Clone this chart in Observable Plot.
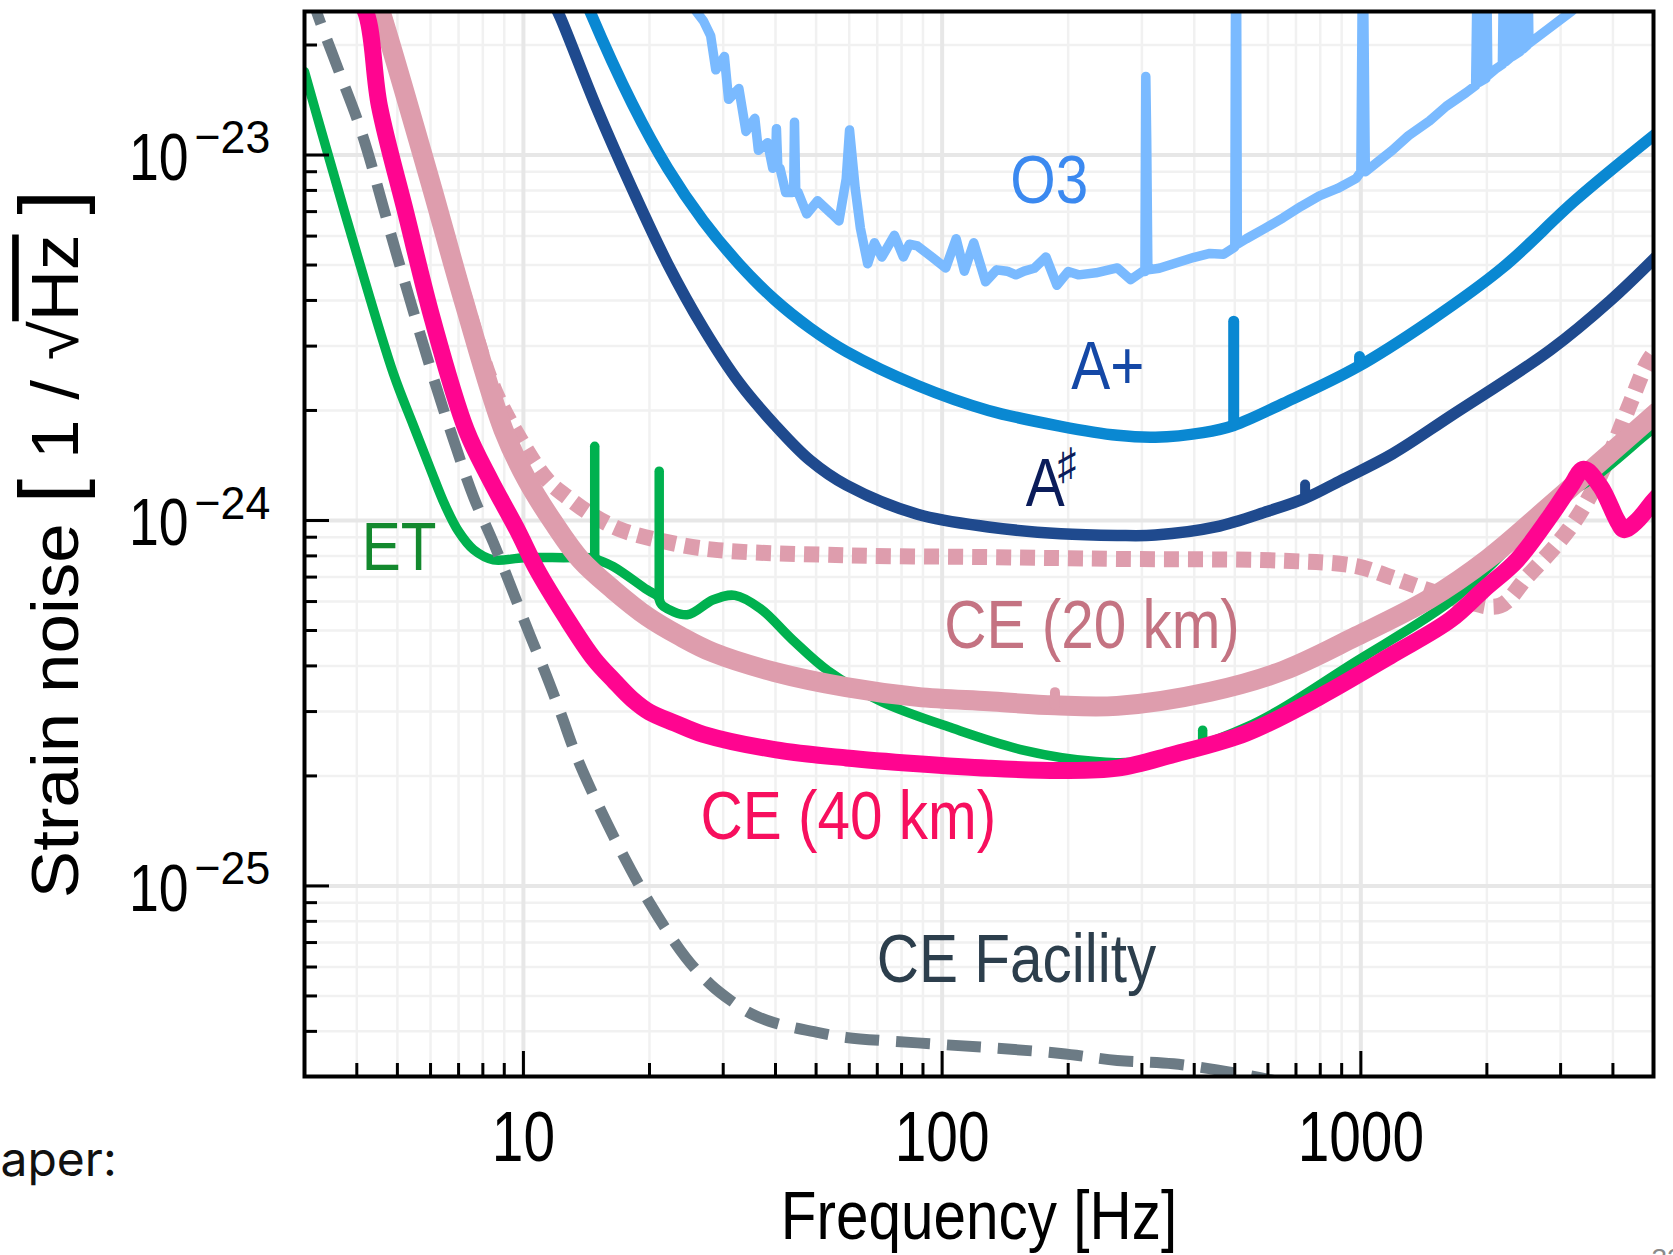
<!DOCTYPE html>
<html>
<head>
<meta charset="utf-8">
<script src="https://cdn.jsdelivr.net/npm/d3@7"></script>
<script src="https://cdn.jsdelivr.net/npm/@observablehq/plot@0.6"></script>
<style>
  html, body { margin: 0; padding: 0; background: #fff; overflow: hidden; }
  #chart { position: relative; width: 1673px; height: 1255px; }
</style>
</head>
<body>
<div id="chart"></div>
<script>
// ---------------- data ----------------
const o3Freq = [25.4, 26.9, 28.0, 28.8, 30.2, 30.9, 32.7, 34.0, 35.7, 36.4, 38.3, 39.4, 40.0, 40.2, 40.5, 41.0, 42.3, 43.9, 44.2, 44.4, 44.7, 45.3, 47.5, 50.4, 54.5, 56.7, 59.0, 60.1, 62.0, 63.8, 66.4, 68.9, 71.8, 76.9, 80.8, 83.5, 87.3, 94.5, 102, 108, 113, 119, 127, 135, 143, 150, 157, 166, 177, 188, 200, 212, 233, 262, 282, 300, 305, 306.5, 308, 310, 330, 357, 400, 436, 470, 500, 502, 505, 507, 533, 590, 652, 720, 796, 880, 975, 1000, 1008, 1015, 1025, 1100, 1189, 1300, 1459, 1600, 1783, 1880, 1895, 1905, 1915, 1990, 2000, 2010, 2100, 2178, 2190, 2200, 2215, 2280, 2290, 2300, 2400, 2410, 2420, 2440, 2500, 2510, 2520, 2667, 3194, 3500];
const o3Strain = [2.54e-23, 2.33e-23, 2.12e-23, 1.71e-23, 1.86e-23, 1.42e-23, 1.52e-23, 1.16e-23, 1.26e-23, 1.03e-23, 1.08e-23, 9.2e-24, 9.4e-24, 1.18e-23, 9.3e-24, 9.2e-24, 7.9e-24, 7.9e-24, 8.0e-24, 1.23e-23, 8.0e-24, 7.9e-24, 6.9e-24, 7.5e-24, 6.9e-24, 6.6e-24, 8.6e-24, 1.17e-23, 8.1e-24, 6.3e-24, 5.04e-24, 5.75e-24, 5.26e-24, 6.03e-24, 5.26e-24, 5.7e-24, 5.64e-24, 5.26e-24, 4.91e-24, 5.9e-24, 4.81e-24, 5.75e-24, 4.5e-24, 4.85e-24, 4.81e-24, 4.7e-24, 4.81e-24, 4.9e-24, 5.26e-24, 4.4e-24, 4.8e-24, 4.7e-24, 4.76e-24, 4.91e-24, 4.56e-24, 4.79e-24, 4.8e-24, 1.64e-23, 1.1e-23, 4.85e-24, 4.9e-24, 5.04e-24, 5.25e-24, 5.38e-24, 5.35e-24, 5.6e-24, 3e-23, 3e-23, 5.7e-24, 5.9e-24, 6.3e-24, 6.73e-24, 7.24e-24, 7.73e-24, 8.1e-24, 8.63e-24, 9.0e-24, 3e-23, 3e-23, 9.0e-24, 9.6e-24, 1.03e-23, 1.13e-23, 1.24e-23, 1.36e-23, 1.48e-23, 1.55e-23, 3e-23, 3e-23, 1.58e-23, 1.62e-23, 3e-23, 1.65e-23, 1.72e-23, 1.77e-23, 3e-23, 3e-23, 1.8e-23, 1.85e-23, 3e-23, 1.86e-23, 1.92e-23, 3e-23, 3e-23, 1.95e-23, 2.0e-23, 3e-23, 2.02e-23, 2.12e-23, 2.48e-23, 2.75e-23];

const aPlusFreq = [13.9, 14.4, 18.2, 22.1, 26.9, 32.7, 39.8, 48.4, 59, 87.3, 129, 192, 262, 323, 420, 497, 652, 975, 1459, 2178, 3258, 5100];
const aPlusStrain = [2.75e-23, 2.48e-23, 1.38e-23, 9.2e-24, 6.6e-24, 5.04e-24, 4.02e-24, 3.36e-24, 2.90e-24, 2.34e-24, 2.00e-24, 1.81e-24, 1.71e-24, 1.69e-24, 1.74e-24, 1.82e-24, 2.09e-24, 2.62e-24, 3.51e-24, 4.91e-24, 7.53e-24, 1.15e-23];
const aPlusSpikeFreq = [497, 993];
const aPlusSpikeBase = [1.82e-24, 2.66e-24];
const aPlusSpikeTop = [3.5e-24, 2.8e-24];

const aSharpFreq = [11.8, 12.25, 14.9, 18.2, 22.1, 26.9, 32.7, 39.8, 48.4, 59, 87.3, 129, 192, 262, 323, 450, 600, 736, 900, 1189, 1637, 2838, 3945, 5100];
const aSharpStrain = [2.6e-23, 2.38e-23, 1.36e-23, 8.07e-24, 5.04e-24, 3.36e-24, 2.39e-24, 1.83e-24, 1.46e-24, 1.25e-24, 1.04e-24, 9.6e-25, 9.2e-25, 9.1e-25, 9.12e-25, 9.6e-25, 1.06e-24, 1.15e-24, 1.29e-24, 1.52e-24, 1.93e-24, 2.93e-24, 4.0e-24, 5.3e-24];
const aSharpSpikeFreq = [736];
const aSharpSpikeBase = [1.15e-24];
const aSharpSpikeTop = [1.25e-24];

const ce20Freq = [4.4, 4.55, 5.96, 7.23, 8.96, 10.2, 11.8, 13.7, 16.4, 19.75, 23.7, 28.4, 39.8, 59, 87.3, 129, 186, 262, 437, 652, 975, 1458, 2011, 2838, 3740, 5100];
const ce20Strain = [2.75e-23, 2.48e-23, 8.63e-24, 3.93e-24, 1.77e-24, 1.29e-24, 9.86e-25, 7.8e-25, 6.46e-25, 5.46e-25, 4.82e-25, 4.35e-25, 3.85e-25, 3.5e-25, 3.29e-25, 3.2e-25, 3.12e-25, 3.11e-25, 3.4e-25, 3.88e-25, 4.82e-25, 6.1e-25, 7.85e-25, 1.10e-24, 1.45e-24, 1.98e-24];
const ce20SpikeFreq = [186];
const ce20SpikeBase = [3.12e-25];
const ce20SpikeTop = [3.38e-25];

const ce20PmFreq = [4.5, 4.6, 5.96, 7.23, 8.5, 9.84, 11.4, 12.7, 14.7, 17.05, 21.6, 28.4, 59, 129, 262, 650, 975, 1192, 1458, 1783, 2150, 2500, 2999, 3407, 3945, 4406, 4831, 5100];
const ce20PmStrain = [2.75e-23, 2.48e-23, 8.81e-24, 4.07e-24, 2.29e-24, 1.66e-24, 1.29e-24, 1.16e-24, 1.03e-24, 9.44e-25, 8.77e-25, 8.32e-25, 8.03e-25, 7.94e-25, 7.85e-25, 7.76e-25, 7.5e-25, 6.97e-25, 6.43e-25, 6.0e-25, 5.85e-25, 7.03e-25, 8.85e-25, 1.09e-24, 1.53e-24, 2.1e-24, 2.7e-24, 2.95e-24];

const ce40Freq = [3.85, 4.19, 4.53, 5.24, 6.07, 7.30, 8.34, 9.66, 10.78, 12.6, 14.7, 16.5, 18.2, 20, 23, 26.9, 39.8, 59, 87.3, 129, 192, 262, 357, 533, 796, 1192, 1637, 1963, 2363, 2838, 3170, 3407, 3735, 4096, 4250, 4573, 4963, 5100];
const ce40Strain = [2.8e-23, 2.48e-23, 1.36e-23, 6.93e-24, 3.54e-24, 1.77e-24, 1.29e-24, 9.44e-25, 7.33e-25, 5.46e-25, 4.2e-25, 3.63e-25, 3.24e-25, 2.99e-25, 2.79e-25, 2.60e-25, 2.36e-25, 2.24e-25, 2.16e-25, 2.10e-25, 2.07e-25, 2.10e-25, 2.29e-25, 2.62e-25, 3.29e-25, 4.3e-25, 5.35e-25, 6.46e-25, 7.8e-25, 1.03e-24, 1.24e-24, 1.38e-24, 1.24e-24, 1.0e-24, 9.44e-25, 1.0e-24, 1.12e-24, 1.16e-24];

const etFreq = [3.0, 3.3, 4.0, 4.9, 5.46, 6.0, 6.5, 7.0, 7.6, 8.48, 10.0, 12.46, 14.6, 15.0, 16.4, 19.75, 20.95, 21.25, 21.6, 24.6, 28.4, 32, 36.8, 43.9, 53.4, 71.7, 106, 157, 233, 300, 533, 975, 1710, 2838, 3735, 4963, 5100];
const etStrain = [1.69e-23, 1.15e-23, 5.37e-24, 2.51e-24, 1.82e-24, 1.38e-24, 1.10e-24, 9.33e-25, 8.32e-25, 7.8e-25, 7.91e-25, 7.91e-25, 7.9e-25, 7.82e-25, 7.48e-25, 6.46e-25, 6.2e-25, 5.95e-25, 5.82e-25, 5.52e-25, 6.07e-25, 6.24e-25, 5.74e-25, 4.72e-25, 3.88e-25, 3.19e-25, 2.70e-25, 2.35e-25, 2.19e-25, 2.2e-25, 2.72e-25, 4.12e-25, 6.24e-25, 1.09e-24, 1.35e-24, 1.77e-24, 1.8e-24];
const etSpikeFreq = [14.8, 21.1, 419];
const etSpikeBase = [7.86e-25, 6.1e-25, 2.35e-25];
const etSpikeTop = [1.59e-24, 1.36e-24, 2.66e-25];

const ceFacFreq = [3.1, 3.2, 3.63, 4.1, 5.0, 6.1, 6.81, 7.60, 8.48, 9.46, 10.39, 11.2, 12.25, 13.5, 16.5, 20.0, 24.4, 28, 31.4, 35, 39.8, 50, 59, 87.3, 129, 192, 262, 357, 533, 700];
const ceFacStrain = [2.8e-23, 2.48e-23, 1.69e-23, 1.16e-23, 5.26e-24, 2.45e-24, 1.66e-24, 1.16e-24, 8.69e-25, 6.34e-25, 4.82e-25, 3.91e-25, 2.99e-25, 2.21e-25, 1.35e-25, 9.0e-26, 6.38e-26, 5.37e-26, 4.84e-26, 4.47e-26, 4.22e-26, 3.98e-26, 3.85e-26, 3.72e-26, 3.61e-26, 3.48e-26, 3.33e-26, 3.26e-26, 3.04e-26, 2.85e-26];

// curve labels
const labelText = ["O3", "A+", "A", "ET", "CE (20 km)", "CE (40 km)", "CE Facility"];
const labelFreq = [180.3, 248.8, 176.2, 5.05, 228, 59.7, 150.5];
const labelStrain = [8.48e-24, 2.633e-24, 1.253e-24, 8.37e-25, 5.12e-25, 1.54e-25, 6.28e-26];
const labelColor = ["#3b89f0", "#1448a6", "#0b1c5a", "#13892e", "#c47382", "#f70f5e", "#2c3e4c"];
const sharpText = ["♯"];

// axes
const xMajorTicks = [10, 100, 1000];
const xTickLabels = ["10", "100", "1000"];
const xMinorTicks = [4, 5, 6, 7, 8, 9, 20, 30, 40, 50, 60, 70, 80, 90, 200, 300, 400, 500, 600, 700, 800, 900, 2000, 3000, 4000];
const yMajorTicks = [1e-25, 1e-24, 1e-23];
const yTickBase = ["10", "10", "10"];
const yTickExp = ["−25", "−24", "−23"];
const yMinorTicks = [4e-26, 5e-26, 6e-26, 7e-26, 8e-26, 9e-26, 2e-25, 3e-25, 4e-25, 5e-25, 6e-25, 7e-25, 8e-25, 9e-25, 2e-24, 3e-24, 4e-24, 5e-24, 6e-24, 7e-24, 8e-24, 9e-24, 2e-23];
const xTitle = "Frequency [Hz]";
const yTitle = "Strain noise [1 / √Hz]";

// ---------------- chart ----------------
const W = 1673, H = 1255;
const mL = 304, mR = 20, mT = 11, mB = 179;
const frameW = W - mL - mR, frameH = H - mT - mB;
const table = (fs, hs) => fs.map((f, i) => ({f, h: hs[i]}));
const spikes = (fs, bs, ts) => fs.map((f, i) => ({f, b: bs[i], t: ts[i]}));
const font = "'Liberation Sans', Arial, Helvetica, sans-serif";
const smooth = "catmull-rom";

const labels = labelText.map((t, i) => ({t, f: labelFreq[i], h: labelStrain[i], c: labelColor[i]}));

function curve(fs, hs, opts) {
  return Plot.line(table(fs, hs), {x: "f", y: "h", curve: smooth, clip: true, ...opts});
}
function spikeRule(fs, bs, ts, opts) {
  return Plot.ruleX(spikes(fs, bs, ts), {x: "f", y1: "b", y2: "t", strokeLinecap: "round", clip: true, ...opts});
}

const plot = Plot.plot({
  width: W, height: H,
  marginLeft: mL, marginRight: mR, marginTop: mT, marginBottom: mB,
  style: {fontFamily: font, background: "white", overflow: "visible"},
  x: {type: "log", domain: [3, 5000], axis: null},
  y: {type: "log", domain: [3.01e-26, 2.47e-23], axis: null},
  marks: [
    Plot.ruleX(xMinorTicks, {x: d => d, stroke: "#f1f1f1", strokeWidth: 2.5}),
    Plot.ruleY(yMinorTicks, {y: d => d, stroke: "#f1f1f1", strokeWidth: 2.5}),
    Plot.ruleX(xMajorTicks, {x: d => d, stroke: "#e7e7e7", strokeWidth: 4}),
    Plot.ruleY(yMajorTicks, {y: d => d, stroke: "#e7e7e7", strokeWidth: 4}),

    Plot.line(table(o3Freq, o3Strain), {x: "f", y: "h", stroke: "#7abaff", strokeWidth: 9.5, strokeLinejoin: "round", clip: true}),
    curve(aPlusFreq, aPlusStrain, {stroke: "#0a88d2", strokeWidth: 11.5}),
    spikeRule(aPlusSpikeFreq, aPlusSpikeBase, aPlusSpikeTop, {stroke: "#0a88d2", strokeWidth: 11}),
    curve(aSharpFreq, aSharpStrain, {stroke: "#1f4a8e", strokeWidth: 11.5}),
    spikeRule(aSharpSpikeFreq, aSharpSpikeBase, aSharpSpikeTop, {stroke: "#1f4a8e", strokeWidth: 10}),
    curve(ce20PmFreq, ce20PmStrain, {stroke: "#de9dad", strokeWidth: 16, strokeDasharray: "15,9", strokeLinecap: "butt"}),
    curve(etFreq, etStrain, {stroke: "#00b14f", strokeWidth: 9.5}),
    spikeRule(etSpikeFreq, etSpikeBase, etSpikeTop, {stroke: "#00b14f", strokeWidth: 9.5}),
    curve(ceFacFreq, ceFacStrain, {stroke: "#6c7b85", strokeWidth: 11, strokeDasharray: "34,17", strokeLinecap: "butt"}),
    curve(ce20Freq, ce20Strain, {stroke: "#de9dad", strokeWidth: 20}),
    spikeRule(ce20SpikeFreq, ce20SpikeBase, ce20SpikeTop, {stroke: "#de9dad", strokeWidth: 10}),
    curve(ce40Freq, ce40Strain, {stroke: "#ff0590", strokeWidth: 17}),

    Plot.tickX(xMajorTicks, {x: d => d, insetTop: frameH - 25, stroke: "black", strokeWidth: 3}),
    Plot.tickX(xMinorTicks, {x: d => d, insetTop: frameH - 13, stroke: "black", strokeWidth: 3}),
    Plot.tickY(yMajorTicks, {y: d => d, insetRight: frameW - 25, stroke: "black", strokeWidth: 3}),
    Plot.tickY(yMinorTicks, {y: d => d, insetRight: frameW - 13, stroke: "black", strokeWidth: 3}),
    Plot.frame({stroke: "black", strokeWidth: 4}),

    Plot.text(xMajorTicks, {x: d => d, text: (d, i) => xTickLabels[i], frameAnchor: "bottom", lineAnchor: "top", dy: 34, fontSize: 71, fill: "black"}),
    Plot.text(yMajorTicks, {y: d => d, text: (d, i) => yTickBase[i], frameAnchor: "left", textAnchor: "end", lineAnchor: "top", dx: -116, dy: -23, fontSize: 67, fill: "black"}),
    Plot.text(yMajorTicks, {y: d => d, text: (d, i) => yTickExp[i], frameAnchor: "left", textAnchor: "start", lineAnchor: "top", dx: -110, dy: -35, fontSize: 47, fill: "black"}),
    Plot.text([xTitle], {frameAnchor: "bottom", lineAnchor: "top", dy: 114, fontSize: 68, fill: "black"}),
    Plot.text([yTitle], {frameAnchor: "left", rotate: -90, textAnchor: "middle", lineAnchor: "middle", dx: -248, fontSize: 71, fill: "black"}),

    Plot.text(labels, {x: "f", y: "h", text: "t", fill: "c", fontSize: 68, textAnchor: "middle", lineAnchor: "middle"}),
    Plot.text(sharpText, {x: [labelFreq[2]], y: [labelStrain[2]], text: d => d, fill: labelColor[2], fontSize: 44, dx: 22, dy: -20, textAnchor: "middle", lineAnchor: "middle"}),

    Plot.text(["aper:"], {frameAnchor: "bottom-left", textAnchor: "start", lineAnchor: "top", dx: -304, dy: 65, fontSize: 48, fill: "#111", fontFamily: "Inter, 'Liberation Sans', sans-serif"}),
    Plot.text(["32"], {frameAnchor: "bottom-right", textAnchor: "start", lineAnchor: "top", dx: -2, dy: 172, fontSize: 28, fill: "#8a8a8a"})
  ]
});

// horizontal compression of the reference typography
const svg = d3.select(plot);
svg.selectAll("text").each(function () {
  const el = d3.select(this);
  const txt = el.text();
  if (txt === "aper:" || txt === "32") return;
  const t = el.attr("transform");
  const rotated = t && t.includes("rotate");
  let s = 0.86;
  if (rotated) s = 0.93;
  else if (/^\d+$/.test(txt)) s = 0.8;
  else if (txt.startsWith("−")) s = 0.95;
  const sc = rotated ? `scale(1,${s})` : `scale(${s},1)`;
  if (t) el.attr("transform", t + " " + sc);
  else {
    const x = +el.attr("x") || 0, y = +el.attr("y") || 0;
    el.attr("transform", `translate(${x},${y}) ${sc} translate(${-x},${-y})`);
  }
});
// rich y title: big brackets and overlined Hz
svg.selectAll("text").filter(function () { return d3.select(this).text() === yTitle; }).each(function () {
  const el = d3.select(this);
  el.text(null);
  el.append("tspan").text("Strain noise ");
  el.append("tspan").attr("font-size", 90).text("[");
  el.append("tspan").text(" 1 / √");
  el.append("tspan").style("text-decoration", "overline").text("Hz");
  el.append("tspan").text(" ");
  el.append("tspan").attr("font-size", 90).text("]");
});

document.getElementById("chart").appendChild(plot);
</script>
</body>
</html>
